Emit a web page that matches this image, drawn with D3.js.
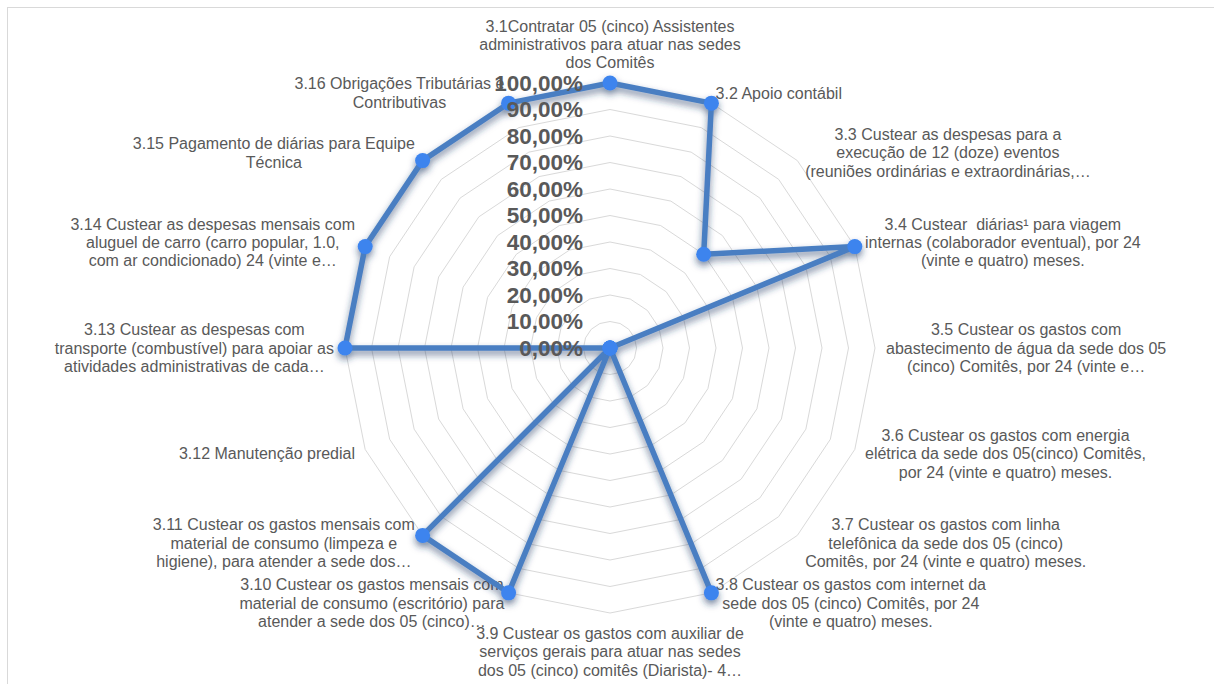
<!DOCTYPE html>
<html>
<head>
<meta charset="utf-8">
<script src="https://cdn.jsdelivr.net/npm/d3@7/dist/d3.min.js"></script>
<style>
  html, body { margin: 0; padding: 0; background: #fff; }
  svg { display: block; }
  .cat { font-family: "Liberation Sans", Arial, sans-serif; font-size: 16px; fill: #595959; white-space: pre; }
  .tick { font-family: "Liberation Sans", Arial, sans-serif; font-size: 22.5px; font-weight: bold; fill: #595959; }
</style>
</head>
<body>
<svg id="chart" width="1214" height="684"></svg>
<script>
// Category labels, already wrapped into lines
const categories = [
  ["3.1Contratar 05 (cinco) Assistentes", "administrativos para atuar nas sedes", "dos Comitês"],
  ["3.2 Apoio contábil"],
  ["3.3 Custear as despesas para a", "execução de 12 (doze) eventos", "(reuniões ordinárias e extraordinárias,…"],
  ["3.4 Custear  diárias¹ para viagem", "internas (colaborador eventual), por 24", "(vinte e quatro) meses."],
  ["3.5 Custear os gastos com", "abastecimento de água da sede dos 05", "(cinco) Comitês, por 24 (vinte e…"],
  ["3.6 Custear os gastos com energia", "elétrica da sede dos 05(cinco) Comitês,", "por 24 (vinte e quatro) meses."],
  ["3.7 Custear os gastos com linha", "telefônica da sede dos 05 (cinco)", "Comitês, por 24 (vinte e quatro) meses."],
  ["3.8 Custear os gastos com internet da", "sede dos 05 (cinco) Comitês, por 24", "(vinte e quatro) meses."],
  ["3.9 Custear os gastos com auxiliar de", "serviços gerais para atuar nas sedes", "dos 05 (cinco) comitês (Diarista)- 4…"],
  ["3.10 Custear os gastos mensais com", "material de consumo (escritório) para", "atender a sede dos 05 (cinco)…"],
  ["3.11 Custear os gastos mensais com", "material de consumo (limpeza e", "higiene), para atender a sede dos…"],
  ["3.12 Manutenção predial"],
  ["3.13 Custear as despesas com", "transporte (combustível) para apoiar as", "atividades administrativas de cada…"],
  ["3.14 Custear as despesas mensais com", "aluguel de carro (carro popular, 1.0,", "com ar condicionado) 24 (vinte e…"],
  ["3.15 Pagamento de diárias para Equipe", "Técnica"],
  ["3.16 Obrigações Tributárias e", "Contributivas"]
];

// Execution share per item
const values = [1.00, 1.00, 0.50, 1.00, 0.00, 0.00, 0.00, 1.00, 0.00, 1.00, 1.00, 0.00, 1.00, 1.00, 1.00, 1.00];

// Radial axis ticks
const tickValues = [0, 0.1, 0.2, 0.3, 0.4, 0.5, 0.6, 0.7, 0.8, 0.9, 1.0];

const ptBR = d3.formatLocale({ decimal: ",", thousands: ".", grouping: [3], currency: ["R$", ""], percent: "%" });
const fmtPct = ptBR.format(".2%");

const svg = d3.select("#chart");
const cx = 610, cy = 348, R = 265;
const n = categories.length;

const r = d3.scaleLinear().domain([0, 1]).range([0, R]);
const angle = d3.scaleLinear().domain([0, n]).range([0, 2 * Math.PI]);

// Chart area border
svg.append("rect")
  .attr("x", 7.5).attr("y", 7.5)
  .attr("width", 1240).attr("height", 720)
  .attr("fill", "none").attr("stroke", "#d9d9d9").attr("stroke-width", 1);

const defs = svg.append("defs");
const shadow = defs.append("filter").attr("id", "shadow")
  .attr("x", "-20%").attr("y", "-20%").attr("width", "140%").attr("height", "140%");
shadow.append("feDropShadow")
  .attr("dx", 0).attr("dy", 4).attr("stdDeviation", 3.5)
  .attr("flood-color", "#1f3864").attr("flood-opacity", 0.6);

const g = svg.append("g").attr("transform", `translate(${cx},${cy})`);

// Grid rings (16-sided polygons)
const ringLine = d3.lineRadial()
  .angle((d, i) => angle(i))
  .radius(d => r(d))
  .curve(d3.curveLinearClosed);

g.append("g").selectAll("path")
  .data(tickValues.filter(t => t > 0))
  .join("path")
  .attr("d", t => ringLine(d3.range(n).map(() => t)))
  .attr("fill", "none")
  .attr("stroke", "#d9d9d9")
  .attr("stroke-width", 1);

// Category labels
const gap = 11;
const lineH = 18.4;
const labels = g.append("g");
categories.forEach((lines, i) => {
  const a = angle(i);
  const sx = Math.sin(a), sy = -Math.cos(a);
  const ax = (R + gap) * sx, ay = (R + gap) * sy;
  const t = labels.append("text").attr("class", "cat").attr("text-anchor", "middle");
  const spans = lines.map(l => t.append("tspan").text(l));
  const w = d3.max(spans, s => s.node().getComputedTextLength());
  const h = lines.length * lineH;
  let bx, top;
  if (Math.abs(sx) < 1e-6) {
    bx = ax;
    top = sy < 0 ? ay - h : ay;
  } else {
    bx = sx > 0 ? ax + w / 2 : ax - w / 2;
    top = ay - h / 2;
  }
  spans.forEach((s, j) => {
    s.attr("x", bx).attr("y", top + lineH * (j + 0.5)).attr("dy", "0.35em");
  });
});

// Series
const seriesLine = d3.lineRadial()
  .angle((d, i) => angle(i))
  .radius(d => r(d))
  .curve(d3.curveLinearClosed);

const series = g.append("g").attr("filter", "url(#shadow)");
series.append("path")
  .attr("d", seriesLine(values))
  .attr("fill", "none")
  .attr("stroke", "#4a7ec2")
  .attr("stroke-width", 5.5)
  .attr("stroke-linejoin", "round");

series.selectAll("circle")
  .data(values)
  .join("circle")
  .attr("cx", (d, i) => r(d) * Math.sin(angle(i)))
  .attr("cy", (d, i) => -r(d) * Math.cos(angle(i)))
  .attr("r", 7.5)
  .attr("fill", "#3d84ee");

// Radial tick labels (drawn above the series)
g.append("g").selectAll("text")
  .data(tickValues)
  .join("text")
  .attr("class", "tick")
  .attr("text-anchor", "end")
  .attr("x", -27)
  .attr("y", d => -r(d))
  .attr("dy", "0.35em")
  .text(d => fmtPct(d));
</script>
</body>
</html>
